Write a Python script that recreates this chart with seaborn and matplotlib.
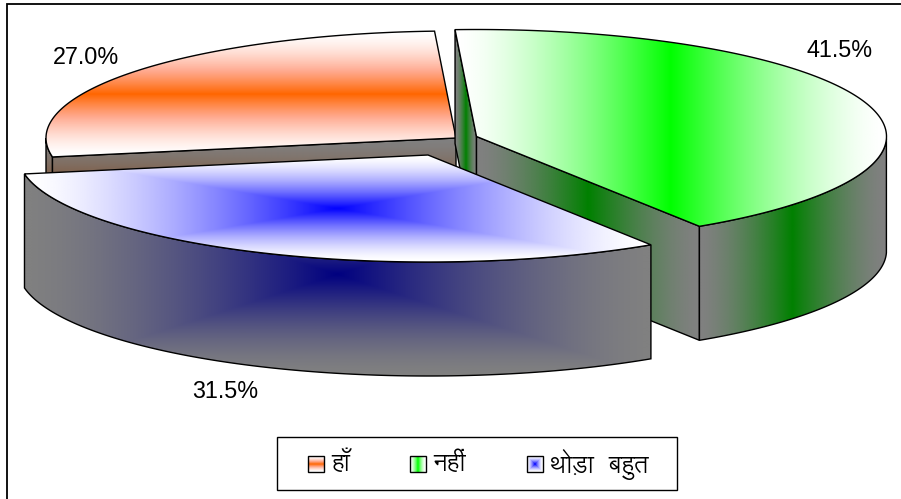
import numpy as np
import matplotlib
matplotlib.use("Agg")
import matplotlib.pyplot as plt
from matplotlib.patches import Polygon, Rectangle
import seaborn as sns

sns.set_theme(style="white")

# Survey responses, percent of answers
categories = ["हाँ", "नहीं", "थोड़ा  बहुत"]
shares = [27.0, 41.5, 31.5]
top_stops = [["#ffffff", "#ffaa90", "#ff6600"],
             ["#ffffff", "#00ff00"],
             ["#ffffff", "#0000ff"]]
wall_colors = ["#803300", "#008000", "#000080"]
WALL_EDGE = "#808080"

# Pie projection in pixels
RX, RY, DEPTH = 410.0, 107.0, 114.0
FIRST_ANGLE = -3.0
GAMMA = 1.5
centers = [(456, 138), (476.5, 136.5), (428, 155)]
label_pos = [(86, 57), (840, 50), (225, 391)]
swatch_x = [308, 410, 527]
swatch_modes = ["y", "x", "box"]

fig = plt.figure(figsize=(9.01, 4.99), dpi=100, facecolor="white")
ax = fig.add_axes([0, 0, 1, 1])
layer = [1.0]


def arc(center, a0, a1):
    t = np.linspace(a0, a1, max(int(abs(a1 - a0)) * 2, 2))
    # Front-right of the pie leans slightly forward in the perspective view
    t = np.radians(t + 1.2 * np.clip(np.sin(np.radians(t)), 0, None))
    return np.column_stack([center[0] + RX * np.sin(t), center[1] - RY * np.cos(t)])


def ramp(stops):
    # Rim-to-middle blend; index 0 is the rim, the last index the middle
    return np.array(sns.blend_palette(stops, 256))


def shade(w, h, mode, palette):
    """Gradient image: outer colour on the rim, full colour at the middle."""
    u = np.abs(np.linspace(-1, 1, w))[None, :].repeat(h, axis=0)
    v = np.abs(np.linspace(-1, 1, h))[:, None].repeat(w, axis=1)
    amount = {"x": u, "y": v, "box": np.maximum(u, v)}[mode]
    return palette[((1 - amount) ** GAMMA * 255).astype(int)]


def paint(points, palette, mode):
    points = np.asarray(points)
    x0, y0 = points.min(axis=0)
    x1, y1 = points.max(axis=0)
    w, h = max(int(x1 - x0), 2), max(int(y1 - y0), 2)
    layer[0] += 1
    patch = Polygon(points, closed=True, fc="none", ec="black", lw=1.0,
                    joinstyle="miter", zorder=layer[0] + 0.5)
    ax.add_patch(patch)
    img = ax.imshow(shade(w, h, mode, palette), extent=(x0, x1, y1, y0), aspect="auto",
                    interpolation="bilinear", zorder=layer[0])
    img.set_clip_path(patch)


def wall_from(path):
    return np.vstack([path, path[::-1] + [0, DEPTH]])


def top_face(center, a0, a1):
    return np.vstack([[center], arc(center, a0, a1)])


# Slice angles follow from the shares, running clockwise from the first angle
spans = np.array(shares) * 3.6
a_green = FIRST_ANGLE
a_blue = a_green + spans[1]
a_red = a_blue + spans[2]

# Back slice: orange
c = centers[0]
wall = ramp([WALL_EDGE, wall_colors[0]])
paint(wall_from(arc(c, a_red, 270)), wall, "y")
paint(wall_from(np.vstack([arc(c, a_red, a_red)[:1], [c]])), wall, "y")
paint(top_face(c, a_red, a_red + spans[0]), ramp(top_stops[0]), "y")

# Right slice: green
c = centers[1]
wall = ramp([WALL_EDGE, wall_colors[1]])
start_pt = arc(c, a_green, a_green)[0]
end_pt = arc(c, a_green + spans[1], a_green + spans[1])[0]
paint(wall_from(np.array([start_pt, c])), wall, "x")
paint(wall_from(np.array([c, end_pt])), wall, "x")
paint(wall_from(arc(c, 90, a_green + spans[1])), wall, "x")
paint(top_face(c, a_green, a_green + spans[1]), ramp(top_stops[1]), "x")

# Front slice: blue
c = centers[2]
paint(wall_from(arc(c, a_blue, a_blue + spans[2])), ramp([WALL_EDGE, wall_colors[2]]), "box")
paint(top_face(c, a_blue, a_blue + spans[2]), ramp(top_stops[2]), "box")

# Percentage labels
for share, (lx, ly) in zip(shares, label_pos):
    ax.text(lx, ly, f"{share:.1f}%", family="Liberation Sans", fontsize=16.8,
            ha="center", va="center", color="black", zorder=100)

# Legend box and swatches
ax.add_patch(Rectangle((277, 437), 400, 53, fc="white", ec="black", lw=1.0, zorder=90))
for name, stops, sx, mode in zip(categories, top_stops, swatch_x, swatch_modes):
    ax.imshow(shade(16, 16, mode, ramp(stops)), extent=(sx, sx + 16, 472, 456),
              aspect="auto", interpolation="bilinear", zorder=94)
    ax.add_patch(Rectangle((sx, 456), 16, 16, fc="none", ec="black", lw=1.0, zorder=95))
    ax.text(sx + 23, 464, name, family=["Lohit Devanagari", "DejaVu Sans"], fontsize=17.5,
            ha="left", va="center", color="black", zorder=96)

# Frame lines along the top and left of the figure
ax.plot([7, 7, 901], [499, 4, 4], color="black", lw=1.3, zorder=110, solid_joinstyle="miter")

ax.set_xlim(0, 901)
ax.set_ylim(499, 0)
ax.axis("off")
fig.savefig("out.png", dpi=100, facecolor="white")
